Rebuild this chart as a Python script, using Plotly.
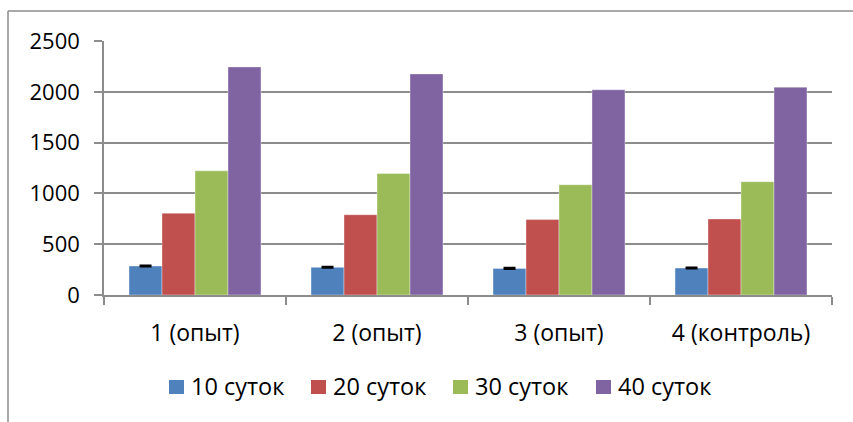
import plotly.graph_objects as go

# Data
categories = ["1 (опыт)", "2 (опыт)", "3 (опыт)", "4 (контроль)"]
series_names = ["10 суток", "20 суток", "30 суток", "40 суток"]
values_10 = [285, 272, 262, 265]
values_20 = [805, 790, 742, 748]
values_30 = [1222, 1196, 1085, 1115]
values_40 = [2245, 2176, 2020, 2046]
errors_10 = [5, 5, 5, 5]
y_ticks = [0, 500, 1000, 1500, 2000, 2500]

colors = ["#4F81BD", "#C0504D", "#9BBB59", "#8064A2"]
all_values = [values_10, values_20, values_30, values_40]

FONT = "Open Sans"
GRID = "#8c8c8c"

fig = go.Figure()
for i, (name, vals) in enumerate(zip(series_names, all_values)):
    err = None
    if i == 0:
        err = dict(type="data", array=errors_10, visible=True,
                   color="black", thickness=2, width=6)
    fig.add_trace(go.Bar(
        x=categories, y=vals, name=name,
        marker=dict(color=colors[i], line=dict(color="rgba(255,255,255,0.6)", width=0.6)),
        error_y=err, showlegend=False,
    ))

# Plot area geometry (pixels) used to place the legend and chart frame
W, H = 853, 422
L, R, T, B = 104, 21, 41, 127
pw, ph = W - L - R, H - T - B

def px_x(x):
    return (x - L) / pw

def px_y(y):
    return (H - B - y) / ph

shapes = []
annotations = []
# chart frame (top and left edges)
shapes.append(dict(type="line", xref="paper", yref="paper",
                   x0=px_x(8), x1=px_x(860), y0=px_y(11), y1=px_y(11),
                   line=dict(color="#8c8c8c", width=1.5)))
shapes.append(dict(type="line", xref="paper", yref="paper",
                   x0=px_x(8), x1=px_x(8), y0=px_y(11), y1=px_y(430),
                   line=dict(color="#8c8c8c", width=1.5)))

# legend
legend_x = [169, 311, 453, 596]
for name, c, lx in zip(series_names, colors, legend_x):
    shapes.append(dict(type="rect", xref="paper", yref="paper",
                       x0=px_x(lx), x1=px_x(lx + 15), y0=px_y(380), y1=px_y(394),
                       fillcolor=c, line=dict(width=0)))
    annotations.append(dict(text=name, xref="paper", yref="paper",
                            x=px_x(lx + 20), y=px_y(386), xanchor="left", yanchor="middle",
                            showarrow=False, font=dict(family=FONT, size=23.5, color="#000")))

fig.update_layout(
    width=W, height=H,
    margin=dict(l=L, r=R, t=T, b=B),
    paper_bgcolor="white", plot_bgcolor="white",
    barmode="group", bargap=0.275, bargroupgap=0,
    font=dict(family=FONT, size=23, color="#000"),
    shapes=shapes, annotations=annotations,
    xaxis=dict(
        type="category", showline=True, linecolor=GRID, linewidth=1.5,
        ticks="outside", tickson="boundaries", ticklen=8, tickcolor=GRID, tickwidth=1.5,
        showgrid=False, tickfont=dict(family=FONT, size=23, color="#000"),
        ticklabelstandoff=17,
    ),
    yaxis=dict(
        range=[0, 2500], tickvals=y_ticks, showline=True, linecolor=GRID, linewidth=1.5,
        showgrid=True, gridcolor=GRID, gridwidth=1.5, zeroline=False,
        ticks="outside", ticklen=8, tickcolor=GRID, tickwidth=1.5,
        tickfont=dict(family=FONT, size=22, color="#000"),
        ticklabelstandoff=10,
    ),
)

fig.write_html("out.html")
